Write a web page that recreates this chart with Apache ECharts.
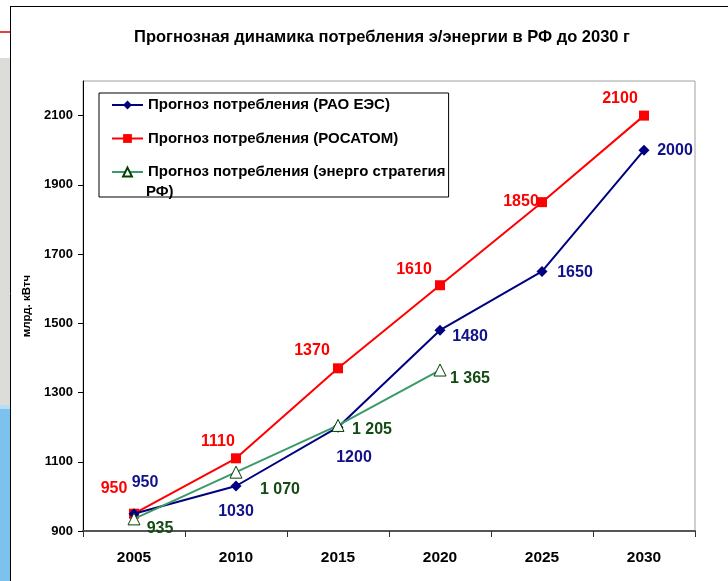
<!DOCTYPE html>
<html>
<head>
<meta charset="utf-8">
<script src="https://cdn.jsdelivr.net/npm/echarts@6/dist/echarts.min.js"></script>
<style>
  html, body { margin: 0; padding: 0; background: #fff; }
  #chart { width: 728px; height: 581px; }
</style>
</head>
<body>
<div id="chart"></div>
<script>
// years on the x axis
var years = ["2005", "2010", "2015", "2020", "2025", "2030"];
// forecasts, bn kWh
var raoEes = [950, 1030, 1200, 1480, 1650, 2000];
var rosatom = [950, 1110, 1370, 1610, 1850, 2100];
var energoStrategy = [935, 1070, 1205, 1365, null, null];

var seriesNames = [
  "Прогноз потребления (РАО ЕЭС)",
  "Прогноз потребления (РОСАТОМ)",
  "Прогноз потребления (энерго стратегия"
];

// where each value label sits relative to its point
var blueOffsets = [[11, -31], [0, 26], [16, 30], [30, 6], [33, 1], [31, 0]];
var redOffsets = [[-20, -25], [-18, -17], [-26, -18], [-26, -16], [-21, -1], [-24, -17]];
var greenOffsets = [[26, 10], [44, 17], [34, 4], [30, 9], [0, 0], [0, 0]];

var FONT = "Liberation Sans, Arial, sans-serif";

function withOffsets(values, offsets) {
  return values.map(function (v, i) {
    return { value: v, label: { offset: offsets[i] } };
  });
}

function spaced(v) {
  var s = String(v);
  return s.length > 3 ? s.slice(0, s.length - 3) + " " + s.slice(-3) : s;
}

var chart = echarts.init(document.getElementById("chart"));

chart.setOption({
  backgroundColor: "#fff",
  animation: false,
  textStyle: { fontFamily: FONT },
  title: {
    text: "Прогнозная динамика потребления э/энергии в РФ до 2030 г",
    left: 377,
    top: 24,
    textAlign: "center",
    textStyle: { fontSize: 16.5, fontWeight: "bold", color: "#000", fontFamily: FONT }
  },
  graphic: [
    { type: "rect", shape: { x: 0, y: 58, width: 10, height: 360 }, style: { fill: "#dcdcd8" }, silent: true },
    { type: "rect", shape: { x: 0, y: 408, width: 10, height: 173 }, style: { fill: "#7cc2ee" }, silent: true },
    { type: "rect", shape: { x: 0, y: 405, width: 10, height: 4 }, style: { fill: "#b8dcf2" }, silent: true },
    { type: "line", shape: { x1: 0, y1: 32, x2: 11, y2: 32 }, style: { stroke: "#e00000", lineWidth: 1.5 }, silent: true },
    { type: "line", shape: { x1: 10.5, y1: 6, x2: 10.5, y2: 581 }, style: { stroke: "#000", lineWidth: 1 }, silent: true },
    { type: "line", shape: { x1: 10, y1: 6.5, x2: 728, y2: 6.5 }, style: { stroke: "#000", lineWidth: 1 }, silent: true },
    {
      type: "text", left: 146, top: 184, z: 100, silent: true,
      style: { text: "РФ)", font: "bold 15px " + FONT, fill: "#000" }
    }
  ],
  legend: {
    orient: "vertical",
    left: 99,
    top: 93,
    padding: [3, 3, 16, 12],
    itemGap: 15.5,
    itemWidth: 31,
    itemHeight: 11,
    borderColor: "#000",
    borderWidth: 1,
    backgroundColor: "#fff",
    textStyle: { fontSize: 15, fontWeight: "bold", color: "#000", lineHeight: 18, fontFamily: FONT },
    data: seriesNames
  },
  grid: {
    left: 83,
    right: 33,
    top: 81,
    bottom: 50,
    show: true,
    borderColor: "#a0a0a0",
    borderWidth: 1
  },
  xAxis: {
    type: "category",
    data: years,
    boundaryGap: true,
    axisLine: { lineStyle: { color: "#555", width: 2 } },
    axisTick: { show: true, length: 6, lineStyle: { color: "#333" } },
    axisLabel: { margin: 19, fontSize: 15.5, fontWeight: "bold", color: "#000", fontFamily: FONT },
    splitLine: { show: false }
  },
  yAxis: {
    type: "value",
    min: 900,
    max: 2200,
    interval: 200,
    name: "млрд. кВтч",
    nameLocation: "middle",
    nameGap: 39,
    nameTextStyle: { fontSize: 11.5, fontWeight: "bold", color: "#000", fontFamily: FONT },
    axisLine: { show: true, lineStyle: { color: "#000", width: 1 } },
    axisTick: { show: true, length: 5, lineStyle: { color: "#000" } },
    axisLabel: {
      showMaxLabel: false, margin: 10, fontSize: 13, fontWeight: "bold", color: "#000", fontFamily: FONT,
      formatter: function (v) { return String(v); }
    },
    splitLine: { show: false }
  },
  series: [
    {
      name: seriesNames[0],
      type: "line",
      data: withOffsets(raoEes, blueOffsets),
      symbol: "diamond",
      symbolSize: 11,
      lineStyle: { color: "#000080", width: 2 },
      itemStyle: { color: "#000080" },
      label: {
        show: true, position: "inside", align: "center", verticalAlign: "middle",
        fontSize: 16, fontWeight: "bold", color: "#12128a", fontFamily: FONT
      },
      z: 3
    },
    {
      name: seriesNames[1],
      type: "line",
      data: withOffsets(rosatom, redOffsets),
      symbol: "rect",
      symbolSize: 10,
      lineStyle: { color: "#ff0000", width: 2 },
      itemStyle: { color: "#ff0000" },
      label: {
        show: true, position: "inside", align: "center", verticalAlign: "middle",
        fontSize: 16, fontWeight: "bold", color: "#ff0000", fontFamily: FONT
      },
      z: 2
    },
    {
      name: seriesNames[2],
      type: "line",
      data: withOffsets(energoStrategy, greenOffsets),
      symbol: "triangle",
      symbolSize: 12,
      lineStyle: { color: "#3a9a6a", width: 2 },
      itemStyle: { color: "#fff", borderColor: "#004000", borderWidth: 1 },
      label: {
        show: true, position: "inside", align: "center", verticalAlign: "middle",
        fontSize: 16, fontWeight: "bold", color: "#144a14", fontFamily: FONT,
        formatter: function (p) { return spaced(p.value); }
      },
      z: 4
    }
  ]
});
</script>
</body>
</html>
